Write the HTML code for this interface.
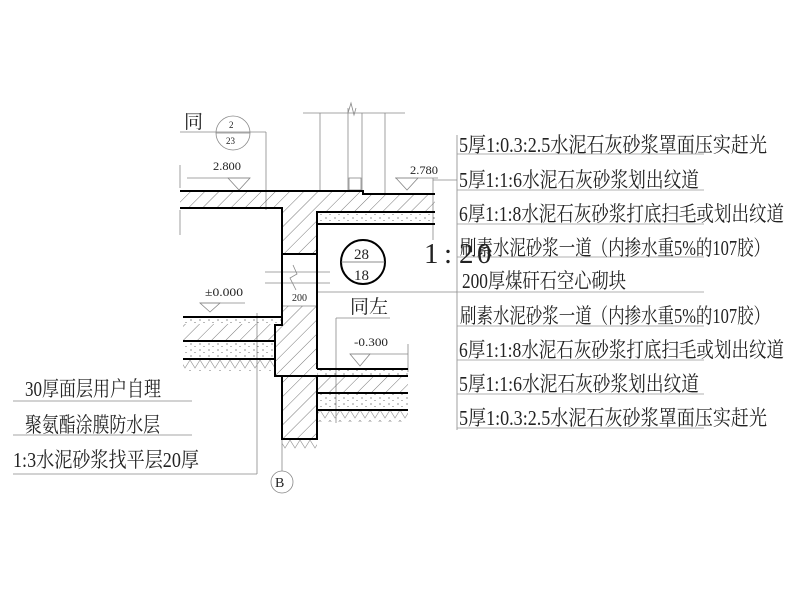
<!DOCTYPE html>
<html><head><meta charset="utf-8"><style>
html,body{margin:0;padding:0;background:#fff;}
svg{display:block;}
text{font-family:"Liberation Serif","Noto Serif CJK SC",serif;fill:#222;}
</style></head><body>
<svg width="800" height="600" viewBox="0 0 800 600" xmlns="http://www.w3.org/2000/svg">
<defs>
<pattern id="h" width="10" height="10" patternUnits="userSpaceOnUse" patternTransform="rotate(45)">
<line x1="0" y1="0" x2="0" y2="10" stroke="#555" stroke-width="0.8"/></pattern>
<pattern id="d" width="9" height="6" patternUnits="userSpaceOnUse">
<circle cx="2" cy="2" r="0.6" fill="#444"/><circle cx="6" cy="4.5" r="0.5" fill="#444"/></pattern>
<pattern id="g" width="10" height="10" patternUnits="userSpaceOnUse">
<path d="M0 0 L5 8 L10 0" fill="none" stroke="#999" stroke-width="0.7"/></pattern>
</defs>
<g stroke="#888" stroke-width="0.8" fill="none">
<line x1="303" y1="113" x2="405" y2="113"/>
<line x1="320" y1="113" x2="320" y2="191"/>
<line x1="385" y1="113" x2="385" y2="194"/>
<line x1="348" y1="108" x2="348" y2="191"/>
<line x1="362" y1="113" x2="362" y2="191"/>
<path d="M348 113 L351 103 L354 115 L356 108"/>
<rect x="349" y="178" width="12" height="12"/>
<line x1="180" y1="132" x2="266" y2="132"/>
<line x1="266" y1="132" x2="266" y2="210"/>
<line x1="187" y1="178" x2="250" y2="178"/>
<path d="M228 178 L250 178 L239 190 Z"/>
<line x1="395" y1="178" x2="438" y2="178"/>
<path d="M396 178 L418 178 L407 190 Z"/>
<line x1="433" y1="178" x2="433" y2="240"/>
<line x1="180" y1="165" x2="180" y2="188"/>
<line x1="180" y1="210" x2="180" y2="235"/>
<line x1="200" y1="303" x2="245" y2="303"/>
<path d="M200 303 L220 303 L210 312 Z"/>
<line x1="350" y1="354" x2="408" y2="354"/>
<path d="M350 354 L370 354 L360 366 Z"/>
<line x1="408" y1="344" x2="408" y2="372"/>
<line x1="336" y1="318" x2="390" y2="318"/>
<line x1="336" y1="318" x2="336" y2="423"/>
<line x1="257" y1="313" x2="257" y2="474"/>
<line x1="13" y1="474" x2="257" y2="474"/>
<line x1="13" y1="401" x2="192" y2="401"/>
<line x1="13" y1="435" x2="192" y2="435"/>
<line x1="282" y1="439" x2="282" y2="471"/>
<circle cx="282" cy="482" r="11"/>
<line x1="282" y1="240" x2="282" y2="260"/>
<line x1="265" y1="272" x2="330" y2="272"/>
<line x1="265" y1="283" x2="330" y2="283"/>
<path d="M293 265 L297 274 L290 278 L296 290"/>
<line x1="282" y1="306" x2="317" y2="306"/>
<line x1="457" y1="135" x2="457" y2="430"/>
<g stroke="#999">
<line x1="457" y1="154" x2="704" y2="154"/>
<line x1="457" y1="190" x2="704" y2="190"/>
<line x1="457" y1="224" x2="704" y2="224"/>
<line x1="457" y1="257" x2="704" y2="257"/>
<line x1="457" y1="292" x2="704" y2="292"/>
<line x1="457" y1="326" x2="704" y2="326"/>
<line x1="457" y1="360" x2="704" y2="360"/>
<line x1="457" y1="394" x2="704" y2="394"/>
<line x1="457" y1="428" x2="704" y2="428"/>
</g>
<line x1="433" y1="180" x2="457" y2="180"/>
<line x1="317" y1="292" x2="457" y2="292"/>
<circle cx="233" cy="133" r="17"/>
<line x1="216" y1="133" x2="250" y2="133"/>
</g>
<path d="M180 191 L363 191 L363 194 L435 194 L435 212 L317 212 L317 254 L282 254 L282 208 L180 208 Z" fill="url(#h)"/>
<rect x="317" y="212" width="118" height="12" fill="url(#d)"/>
<rect x="183" y="324" width="92" height="17" fill="url(#h)"/>
<rect x="183" y="317" width="99" height="7" fill="url(#d)"/>
<rect x="183" y="341" width="92" height="18" fill="url(#d)"/>
<rect x="183" y="359" width="92" height="12" fill="url(#g)"/>
<rect x="275" y="325" width="42" height="51" fill="url(#h)"/>
<rect x="282" y="376" width="35" height="63" fill="url(#h)"/>
<rect x="282" y="439" width="35" height="10" fill="url(#g)"/>
<rect x="317" y="369" width="91" height="7" fill="url(#d)"/>
<rect x="317" y="376" width="91" height="17" fill="url(#h)"/>
<rect x="317" y="393" width="91" height="17" fill="url(#d)"/>
<rect x="317" y="410" width="91" height="12" fill="url(#g)"/>
<rect x="282" y="306" width="35" height="19" fill="url(#h)"/>
<g stroke="#000" stroke-width="2" fill="none">
<path d="M180 191 L363 191 L363 194 L435 194"/>
<path d="M180 208 L282 208 L282 254 L317 254 L317 212 L435 212"/>
<line x1="317" y1="224" x2="435" y2="224"/>
<line x1="282" y1="254" x2="282" y2="317"/>
<line x1="317" y1="254" x2="317" y2="369"/>
<line x1="183" y1="317" x2="282" y2="317"/>
<line x1="183" y1="341" x2="275" y2="341"/>
<line x1="183" y1="359" x2="275" y2="359"/>
<path d="M282 317 L282 325 L275 325 L275 376 L282 376 L282 439 L317 439 L317 376"/>
<line x1="275" y1="376" x2="317" y2="376"/>
<line x1="317" y1="369" x2="408" y2="369"/>
<line x1="317" y1="376" x2="408" y2="376"/>
<line x1="317" y1="393" x2="408" y2="393"/>
<line x1="317" y1="410" x2="408" y2="410"/>
<circle cx="363" cy="262" r="22"/>
</g>
<line x1="341" y1="262" x2="385" y2="262" stroke="#666" stroke-width="0.8"/>
<g font-size="12">
<text x="213" y="170" textLength="28" lengthAdjust="spacingAndGlyphs">2.800</text>
<text x="410" y="174" textLength="28" lengthAdjust="spacingAndGlyphs">2.780</text>
<text x="205" y="296" textLength="38" lengthAdjust="spacingAndGlyphs">±0.000</text>
<text x="354" y="346" textLength="34" lengthAdjust="spacingAndGlyphs">-0.300</text>
<text x="292" y="301" font-size="10">200</text>
<text x="229" y="128" font-size="9">2</text>
<text x="226" y="144" font-size="9">23</text>
</g>
<text x="354" y="259" font-size="15" fill="#444">28</text>
<text x="354" y="280" font-size="15" fill="#444">18</text>
<text x="275" y="487" font-size="14" fill="#888">B</text>
<text x="184" y="128" font-size="19">同</text>
<text x="350" y="313" font-size="19">同左</text>
<g font-size="29">
<text x="424" y="263">1</text>
<text x="444" y="263">:</text>
<text x="459" y="263">2</text>
<text x="477" y="263">0</text>
</g>
<g font-size="21">
<text x="459" y="152" textLength="308" lengthAdjust="spacingAndGlyphs">5厚1:0.3:2.5水泥石灰砂浆罩面压实赶光</text>
<text x="459" y="187" textLength="240" lengthAdjust="spacingAndGlyphs">5厚1:1:6水泥石灰砂浆划出纹道</text>
<text x="459" y="221" textLength="325" lengthAdjust="spacingAndGlyphs">6厚1:1:8水泥石灰砂浆打底扫毛或划出纹道</text>
<text x="460" y="255" textLength="310" lengthAdjust="spacingAndGlyphs">刷素水泥砂浆一道（内掺水重5%的107胶）</text>
<text x="462" y="288" textLength="164" lengthAdjust="spacingAndGlyphs">200厚煤矸石空心砌块</text>
<text x="460" y="323" textLength="310" lengthAdjust="spacingAndGlyphs">刷素水泥砂浆一道（内掺水重5%的107胶）</text>
<text x="459" y="357" textLength="325" lengthAdjust="spacingAndGlyphs">6厚1:1:8水泥石灰砂浆打底扫毛或划出纹道</text>
<text x="459" y="391" textLength="240" lengthAdjust="spacingAndGlyphs">5厚1:1:6水泥石灰砂浆划出纹道</text>
<text x="459" y="425" textLength="308" lengthAdjust="spacingAndGlyphs">5厚1:0.3:2.5水泥石灰砂浆罩面压实赶光</text>
<text x="25" y="396" textLength="136" lengthAdjust="spacingAndGlyphs">30厚面层用户自理</text>
<text x="25" y="432" textLength="135" lengthAdjust="spacingAndGlyphs">聚氨酯涂膜防水层</text>
<text x="13" y="467" textLength="186" lengthAdjust="spacingAndGlyphs">1:3水泥砂浆找平层20厚</text>
</g>
</svg>
</body></html>
